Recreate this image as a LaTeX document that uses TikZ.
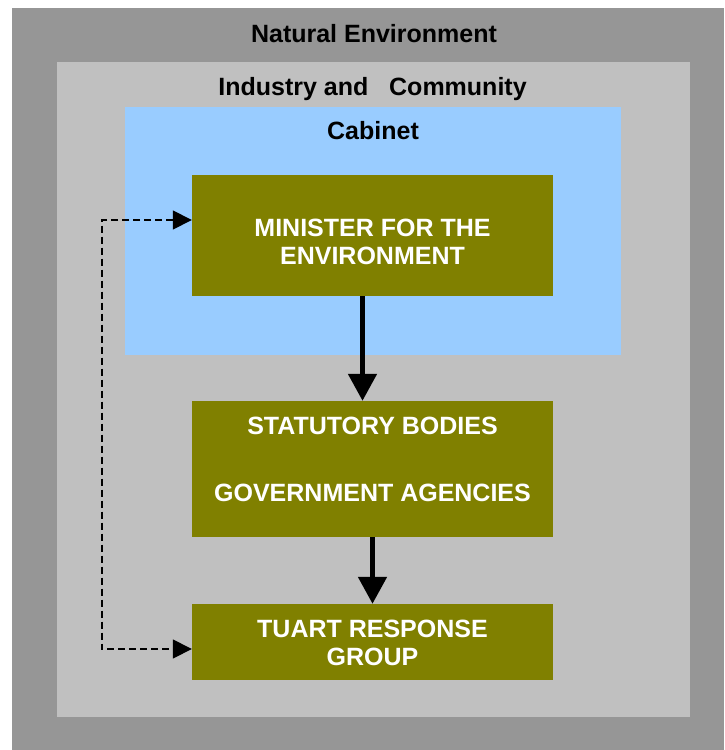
\documentclass[tikz,border=0pt]{standalone}
\usepackage{fontspec}
\setmainfont{Liberation Sans}
\usetikzlibrary{arrows.meta}
\definecolor{natgray}{HTML}{969696}
\definecolor{indgray}{HTML}{C0C0C0}
\definecolor{cabblue}{HTML}{99CCFF}
\definecolor{boxolive}{HTML}{808000}
\tikzset{
    olivebox/.style={fill=boxolive, minimum width=361pt, inner sep=0pt},
    boxtext/.style={text=white, align=center, inner sep=0pt, font=\fontsize{25}{28}\selectfont\bfseries},
    areatitle/.style={anchor=base, inner sep=0pt, font=\fontsize{25}{28}\selectfont\bfseries},
    bigarrow/.style={line width=5pt, -{Triangle[length=27pt,width=28pt]}},
    dashlink/.style={line width=1.6pt, dash pattern=on 7pt off 4pt,
        {Triangle[length=19pt,width=19pt]}-{Triangle[length=19pt,width=19pt]}}
}

\begin{document}
\begin{tikzpicture}[x=1pt, y=-1pt]
            \useasboundingbox (0,0) rectangle (724,750);
            % nested areas
            \fill[natgray] (12,8) rectangle (724,750);
            \fill[indgray] (57,62) rectangle (690,717);
            \fill[cabblue] (125,107) rectangle (621,355);
            \node[areatitle] (natenv) at (374,42) {Natural Environment};
            \node[areatitle] (industry) at (372.5,95) {Industry and\ \ \ Community};
            \node[areatitle] (cabinet) at (373,139) {Cabinet};
            % boxes
            \node[olivebox, minimum height=121pt] (minister) at (372.5,235.5) {};
            \node[olivebox, minimum height=136pt] (statutory) at (372.5,469) {};
            \node[olivebox, minimum height=76pt] (tuart) at (372.5,642) {};
            \node[boxtext] (ministertext) at (372.5,242) {MINISTER FOR THE\\ENVIRONMENT};
            \node[boxtext] (statutorytext) at (372.5,459) {STATUTORY BODIES\\[39pt]GOVERNMENT AGENCIES};
            \node[boxtext] (tuarttext) at (372.5,643) {TUART RESPONSE\\GROUP};
            % links
            \draw[bigarrow] ([xshift=-10pt]minister.south) -- ([xshift=-10pt]statutory.north);
            \draw[bigarrow] (statutory.south) -- (tuart.north);
            \draw[dashlink] ([yshift=15.5pt]minister.west) -- ++(-90,0) |- ([yshift=-7pt]tuart.west);
        \end{tikzpicture}
\end{document}
